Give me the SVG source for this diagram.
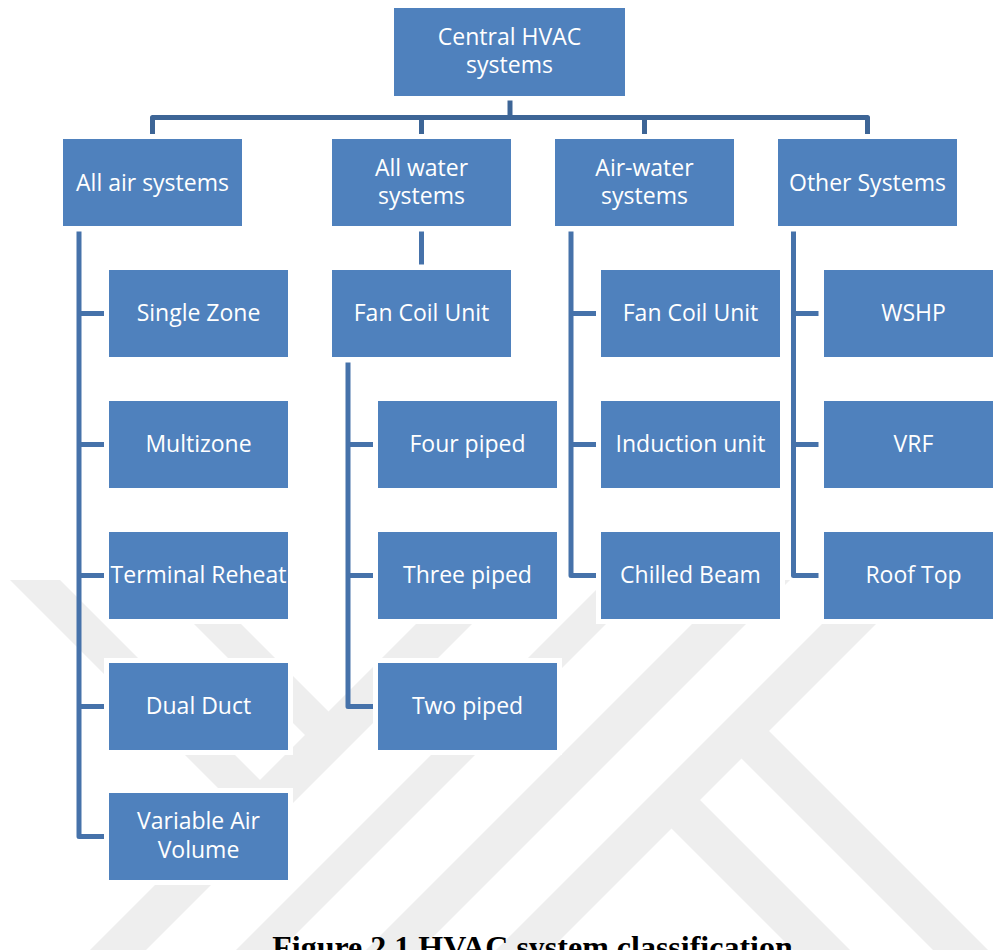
<svg xmlns="http://www.w3.org/2000/svg" width="993" height="950" viewBox="0 0 993 950">
  <style>
    .box { fill: #4f81bd; stroke: #ffffff; stroke-width: 10; paint-order: stroke; }
    .lbl { font-family: "Open Sans", "Liberation Sans", sans-serif; font-size: 23px; fill: #ffffff; text-anchor: middle; }
    .bus { fill: none; stroke: #3d6596; stroke-width: 5; stroke-linejoin: round; }
    .cn { fill: none; stroke: #4672aa; stroke-width: 5; stroke-linejoin: round; }
    .wm { fill: #eeeeee; }
    .cap { font-family: "Liberation Serif", "Times New Roman", serif; font-size: 32px; font-weight: bold; fill: #000000; text-anchor: middle; }
  </style>
  <defs>
    <clipPath id="wmclip"><rect x="0" y="580" width="993" height="370"/></clipPath>
  </defs>
  <rect x="0" y="0" width="993" height="950" fill="#ffffff"/>

  <g id="watermark" clip-path="url(#wmclip)">
    <polygon class="wm" points="10,580 60,580 265,785 240,810"/>
    <polygon class="wm" points="150,580 197,580 333.5,716.5 310,740"/>
    <polygon class="wm" points="460,580 516,580 146,950 90,950"/>
    <polygon class="wm" points="606,580 650,580 280,950 236,950"/>
    <polygon class="wm" points="736,580 790,580 420,950 366,950"/>
    <polygon class="wm" points="866,580 920,580 550,950 496,950"/>
    <polygon class="wm" points="759,721 731.5,748.5 933,950 988,950"/>
    <polygon class="wm" points="688.5,788.5 660,817 793,950 850,950"/>
  </g>

  <g id="root">
    <rect class="box" x="394" y="8" width="231" height="88"/>
    <text class="lbl" x="509.5" y="45">Central HVAC</text>
    <text class="lbl" x="509.5" y="73">systems</text>
  </g>

  <g id="all-air">
    <rect class="box" x="63" y="139" width="179" height="87"/>
    <text class="lbl" x="152.5" y="190.5">All air systems</text>
  </g>
  <g id="all-water">
    <rect class="box" x="332" y="139" width="179" height="87"/>
    <text class="lbl" x="421.5" y="176">All water</text>
    <text class="lbl" x="421.5" y="204">systems</text>
  </g>
  <g id="air-water">
    <rect class="box" x="555" y="139" width="179" height="87"/>
    <text class="lbl" x="644.5" y="176">Air-water</text>
    <text class="lbl" x="644.5" y="204">systems</text>
  </g>
  <g id="other">
    <rect class="box" x="778" y="139" width="179" height="87"/>
    <text class="lbl" x="867.5" y="190.5">Other Systems</text>
  </g>

  <g id="single-zone">
    <rect class="box" x="109" y="270" width="179" height="87"/>
    <text class="lbl" x="198.5" y="321">Single Zone</text>
  </g>
  <g id="multizone">
    <rect class="box" x="109" y="401" width="179" height="87"/>
    <text class="lbl" x="198.5" y="452">Multizone</text>
  </g>
  <g id="terminal-reheat">
    <rect class="box" x="109" y="532" width="179" height="87"/>
    <text class="lbl" x="198.5" y="583">Terminal Reheat</text>
  </g>
  <g id="dual-duct">
    <rect class="box" x="109" y="663" width="179" height="87"/>
    <text class="lbl" x="198.5" y="714">Dual Duct</text>
  </g>
  <g id="vav">
    <rect class="box" x="109" y="793" width="179" height="87"/>
    <text class="lbl" x="198.5" y="829">Variable Air</text>
    <text class="lbl" x="198.5" y="858">Volume</text>
  </g>

  <g id="fcu-water">
    <rect class="box" x="332" y="270" width="179" height="87"/>
    <text class="lbl" x="421.5" y="321">Fan Coil Unit</text>
  </g>
  <g id="four-piped">
    <rect class="box" x="378" y="401" width="179" height="87"/>
    <text class="lbl" x="467.5" y="452">Four piped</text>
  </g>
  <g id="three-piped">
    <rect class="box" x="378" y="532" width="179" height="87"/>
    <text class="lbl" x="467.5" y="583">Three piped</text>
  </g>
  <g id="two-piped">
    <rect class="box" x="378" y="663" width="179" height="87"/>
    <text class="lbl" x="467.5" y="714">Two piped</text>
  </g>

  <g id="fcu-airwater">
    <rect class="box" x="601" y="270" width="179" height="87"/>
    <text class="lbl" x="690.5" y="321">Fan Coil Unit</text>
  </g>
  <g id="induction">
    <rect class="box" x="601" y="401" width="179" height="87"/>
    <text class="lbl" x="690.5" y="452">Induction unit</text>
  </g>
  <g id="chilled-beam">
    <rect class="box" x="601" y="532" width="179" height="87"/>
    <text class="lbl" x="690.5" y="583">Chilled Beam</text>
  </g>

  <g id="wshp">
    <rect class="box" x="824" y="270" width="179" height="87"/>
    <text class="lbl" x="913.5" y="321">WSHP</text>
  </g>
  <g id="vrf">
    <rect class="box" x="824" y="401" width="179" height="87"/>
    <text class="lbl" x="913.5" y="452">VRF</text>
  </g>
  <g id="roof-top">
    <rect class="box" x="824" y="532" width="179" height="87"/>
    <text class="lbl" x="913.5" y="583">Roof Top</text>
  </g>

  <g id="connectors">
    <path class="bus" d="M510,100.5 V117.5"/>
    <path class="bus" d="M152.5,134 V117.5 H867.5 V134"/>
    <path class="bus" d="M421.5,117.5 V134"/>
    <path class="bus" d="M644.5,117.5 V134"/>

    <path class="cn" d="M79,231.5 V836.5 H104"/>
    <path class="cn" d="M79,313.5 H104 M79,444.5 H104 M79,575.5 H104 M79,706.5 H104"/>

    <path class="cn" d="M421.5,231.5 V264.5"/>
    <path class="cn" d="M348,362.5 V706.5 H373"/>
    <path class="cn" d="M348,444.5 H373 M348,575.5 H373"/>

    <path class="cn" d="M571,231.5 V575.5 H596"/>
    <path class="cn" d="M571,313.5 H596 M571,444.5 H596"/>

    <path class="cn" d="M793.5,231.5 V575.5 H818.5"/>
    <path class="cn" d="M793.5,313.5 H818.5 M793.5,444.5 H818.5"/>
  </g>

  <text class="cap" x="532.5" y="958">Figure 2.1 HVAC system classification</text>
</svg>
